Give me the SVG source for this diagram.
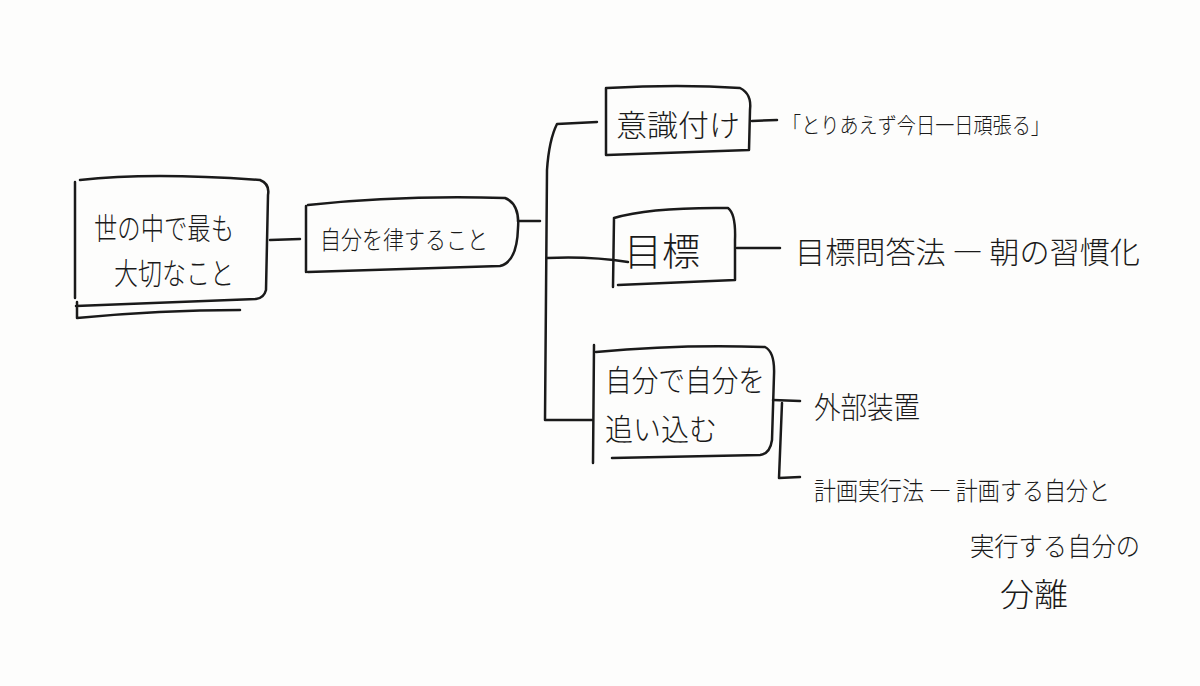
<svg xmlns="http://www.w3.org/2000/svg" width="1200" height="686" viewBox="0 0 1200 686">
<style>
.s{fill:none;stroke:#1a1a1a;stroke-width:2.5;stroke-linecap:round;stroke-linejoin:round}
.t{font-family:"Noto Sans CJK JP","Noto Sans CJK SC",sans-serif;fill:#1a1a1a;font-weight:300}
</style>
<rect width="1200" height="686" fill="#fdfdfc"/>
<g id="connectors">
<path class="s" d="M270 240 L300 239"/>
<path class="s" d="M518 221 L540 221"/>
<path class="s" d="M597 122 L557 124 Q549 140 547 170 L545 420 L592 420"/>
<path class="s" d="M547 258 Q590 256 628 262"/>
<path class="s" d="M752 121 L777 120"/>
<path class="s" d="M737 248 L780 248"/>
<path class="s" d="M773 400 L800 401"/>
<path class="s" d="M782 403 L779 478 L800 477"/>
</g>
<g id="n1">
<path class="s" d="M80 180 Q150 172 260 180 Q270 184 268 195 L266 290 Q264 298 256 299 L76 306 M75 182 L75 298 M77 302 L77 318 Q160 310 240 310"/>
<text class="t" x="94" y="239" font-size="30" textLength="140" lengthAdjust="spacingAndGlyphs">世の中で最も</text>
<text class="t" x="114" y="284" font-size="30" textLength="120" lengthAdjust="spacingAndGlyphs">大切なこと</text>
</g>
<g id="n2">
<path class="s" d="M308 205 Q400 195 505 198 Q520 204 518 228 Q517 262 500 266 L308 272 M306 206 L306 272"/>
<text class="t" x="320" y="249" font-size="25" textLength="168" lengthAdjust="spacingAndGlyphs">自分を律すること</text>
</g>
<g id="n3">
<path class="s" d="M607 88 Q680 84 740 88 Q752 94 750 110 L749 150 L607 155 M606 88 L606 155"/>
<text class="t" x="616" y="136" font-size="30" textLength="124" lengthAdjust="spacingAndGlyphs">意識付け</text>
</g>
<g id="n3b">
<text class="t" x="782" y="133" font-size="22" textLength="268" lengthAdjust="spacingAndGlyphs">「とりあえず今日一日頑張る」</text>
</g>
<g id="n4">
<path class="s" d="M614 218 Q650 207 728 208 Q736 214 735 240 L735 280 L618 285 M614 218 L613 287"/>
<text class="t" x="624" y="265" font-size="38" textLength="76" lengthAdjust="spacingAndGlyphs">目標</text>
</g>
<g id="n4b">
<text class="t" x="795" y="263" font-size="30" textLength="345" lengthAdjust="spacingAndGlyphs">目標問答法 ― 朝の習慣化</text>
</g>
<g id="n5">
<path class="s" d="M596 352 Q680 344 765 347 Q775 352 774 375 L772 440 Q770 454 760 455 L612 458 M594 345 L593 463"/>
<text class="t" x="605" y="391" font-size="30" textLength="160" lengthAdjust="spacingAndGlyphs">自分で自分を</text>
<text class="t" x="605" y="440" font-size="30" textLength="112" lengthAdjust="spacingAndGlyphs">追い込む</text>
</g>
<g id="n6">
<text class="t" x="814" y="418" font-size="30" textLength="106" lengthAdjust="spacingAndGlyphs">外部装置</text>
</g>
<g id="n7">
<text class="t" x="814" y="500" font-size="25" textLength="296" lengthAdjust="spacingAndGlyphs">計画実行法 ― 計画する自分と</text>
<text class="t" x="970" y="556" font-size="26" textLength="170" lengthAdjust="spacingAndGlyphs">実行する自分の</text>
<text class="t" x="1000" y="606" font-size="32" textLength="68" lengthAdjust="spacingAndGlyphs">分離</text>
</g>
</svg>
